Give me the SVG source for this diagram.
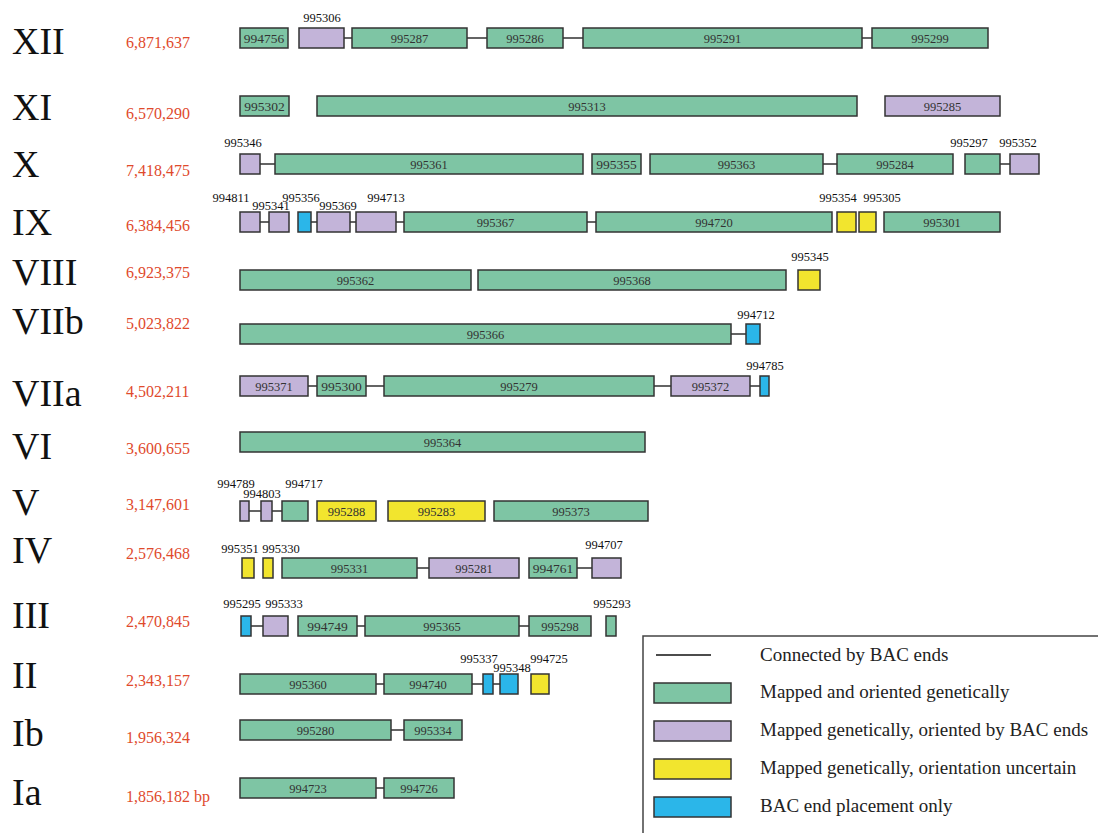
<svg xmlns="http://www.w3.org/2000/svg" width="1098" height="833" viewBox="0 0 1098 833">
<style>
.g,.p,.y,.b{stroke:#333;stroke-width:1.5}
.g{fill:#7ec5a4}.p{fill:#c3b4d9}.y{fill:#f2e52e}.b{fill:#2bb6e9}
text{font-family:"Liberation Serif","Times New Roman",serif}
.in{font-size:12.5px;fill:#333;text-anchor:middle}
.sm{font-size:13.5px}
.out{font-size:12.5px;fill:#111;text-anchor:middle}
.chr{font-size:38px;fill:#111}
.num{font-size:16px;fill:#e04a2c}
.leg{font-size:19px;fill:#222}
#connectors line{stroke:#222;stroke-width:1.4}
</style>
<rect width="1098" height="833" fill="#fff"/>

<g id="labels">
<text class="chr" x="12" y="54">XII</text><text class="num" x="126" y="48">6,871,637</text>
<text class="chr" x="12" y="120">XI</text><text class="num" x="126" y="119">6,570,290</text>
<text class="chr" x="12" y="177">X</text><text class="num" x="126" y="176">7,418,475</text>
<text class="chr" x="12" y="235">IX</text><text class="num" x="126" y="231">6,384,456</text>
<text class="chr" x="12" y="285">VIII</text><text class="num" x="126" y="278">6,923,375</text>
<text class="chr" x="12" y="334">VIIb</text><text class="num" x="126" y="329">5,023,822</text>
<text class="chr" x="12" y="406">VIIa</text><text class="num" x="126" y="397">4,502,211</text>
<text class="chr" x="12" y="459">VI</text><text class="num" x="126" y="454">3,600,655</text>
<text class="chr" x="12" y="515">V</text><text class="num" x="126" y="510">3,147,601</text>
<text class="chr" x="12" y="563">IV</text><text class="num" x="126" y="559">2,576,468</text>
<text class="chr" x="12" y="628">III</text><text class="num" x="126" y="627">2,470,845</text>
<text class="chr" x="12" y="688">II</text><text class="num" x="126" y="686">2,343,157</text>
<text class="chr" x="12" y="746">Ib</text><text class="num" x="126" y="743">1,956,324</text>
<text class="chr" x="12" y="805">Ia</text><text class="num" x="126" y="802">1,856,182 bp</text>
</g>

<g id="connectors">
<line x1="344" y1="38" x2="352" y2="38"/><line x1="467" y1="38" x2="487" y2="38"/><line x1="563" y1="38" x2="583" y2="38"/><line x1="862" y1="38" x2="872" y2="38"/>
<line x1="260" y1="164" x2="275" y2="164"/><line x1="823" y1="164" x2="837" y2="164"/><line x1="1000" y1="164" x2="1010" y2="164"/>
<line x1="260" y1="222" x2="269" y2="222"/><line x1="311" y1="222" x2="317" y2="222"/><line x1="350" y1="222" x2="356" y2="222"/><line x1="396" y1="222" x2="404" y2="222"/><line x1="587" y1="222" x2="596" y2="222"/>
<line x1="731" y1="334" x2="746" y2="334"/>
<line x1="308" y1="386" x2="317" y2="386"/><line x1="366" y1="386" x2="384" y2="386"/><line x1="654" y1="386" x2="671" y2="386"/><line x1="750" y1="386" x2="760" y2="386"/>
<line x1="249" y1="511" x2="261" y2="511"/><line x1="272" y1="511" x2="282" y2="511"/>
<line x1="417" y1="568" x2="429" y2="568"/><line x1="577" y1="568" x2="592" y2="568"/>
<line x1="251" y1="626" x2="263" y2="626"/><line x1="357" y1="626" x2="365" y2="626"/><line x1="519" y1="626" x2="529" y2="626"/>
<line x1="376" y1="684" x2="384" y2="684"/><line x1="472" y1="684" x2="483" y2="684"/><line x1="493" y1="684" x2="500" y2="684"/>
<line x1="391" y1="730" x2="404" y2="730"/>
<line x1="376" y1="788" x2="384" y2="788"/>
</g>

<!-- XII -->
<g id="n994756"><rect class="g" x="240" y="28" width="48" height="20"/><text class="in sm" x="264" y="43">994756</text></g>
<g id="n995306"><rect class="p" x="299" y="28" width="45" height="20"/><text class="out" x="322" y="22">995306</text></g>
<g id="n995287"><rect class="g" x="352" y="28" width="115" height="20"/><text class="in" x="409.5" y="42.5">995287</text></g>
<g id="n995286"><rect class="g" x="487" y="28" width="76" height="20"/><text class="in" x="525" y="42.5">995286</text></g>
<g id="n995291"><rect class="g" x="583" y="28" width="279" height="20"/><text class="in" x="722.5" y="42.5">995291</text></g>
<g id="n995299"><rect class="g" x="872" y="28" width="116" height="20"/><text class="in" x="930" y="42.5">995299</text></g>
<!-- XI -->
<g id="n995302"><rect class="g" x="240" y="96" width="49" height="20"/><text class="in sm" x="264.5" y="111">995302</text></g>
<g id="n995313"><rect class="g" x="317" y="96" width="540" height="20"/><text class="in" x="587" y="110.5">995313</text></g>
<g id="n995285"><rect class="p" x="885" y="96" width="115" height="20"/><text class="in" x="942.5" y="110.5">995285</text></g>
<!-- X -->
<g id="n995346"><rect class="p" x="240" y="154" width="20" height="20"/><text class="out" x="243" y="147">995346</text></g>
<g id="n995361"><rect class="g" x="275" y="154" width="308" height="20"/><text class="in" x="429" y="168.5">995361</text></g>
<g id="n995355"><rect class="g" x="592" y="154" width="49" height="20"/><text class="in sm" x="616.5" y="169">995355</text></g>
<g id="n995363"><rect class="g" x="650" y="154" width="173" height="20"/><text class="in" x="736.5" y="168.5">995363</text></g>
<g id="n995284"><rect class="g" x="837" y="154" width="116" height="20"/><text class="in" x="895" y="168.5">995284</text></g>
<g id="n995297"><rect class="g" x="965" y="154" width="35" height="20"/><text class="out" x="969" y="147">995297</text></g>
<g id="n995352"><rect class="p" x="1010" y="154" width="29" height="20"/><text class="out" x="1018" y="147">995352</text></g>
<!-- IX -->
<g id="n994811"><rect class="p" x="240" y="212" width="20" height="20"/><text class="out" x="231" y="202">994811</text></g>
<g id="n995341"><rect class="p" x="269" y="212" width="20" height="20"/><text class="out" x="271" y="210">995341</text></g>
<g id="n995356"><rect class="b" x="298" y="212" width="13" height="20"/><text class="out" x="301" y="202">995356</text></g>
<g id="n995369"><rect class="p" x="317" y="212" width="33" height="20"/><text class="out" x="338" y="210">995369</text></g>
<g id="n994713"><rect class="p" x="356" y="212" width="40" height="20"/><text class="out" x="386" y="202">994713</text></g>
<g id="n995367"><rect class="g" x="404" y="212" width="183" height="20"/><text class="in" x="495.5" y="226.5">995367</text></g>
<g id="n994720"><rect class="g" x="596" y="212" width="236" height="20"/><text class="in" x="714" y="226.5">994720</text></g>
<g id="n995354"><rect class="y" x="837" y="212" width="19" height="20"/><text class="out" x="838" y="202">995354</text></g>
<g id="n995305"><rect class="y" x="859" y="212" width="17" height="20"/><text class="out" x="882" y="202">995305</text></g>
<g id="n995301"><rect class="g" x="884" y="212" width="116" height="20"/><text class="in" x="942" y="226.5">995301</text></g>
<!-- VIII -->
<g id="n995362"><rect class="g" x="240" y="270" width="231" height="20"/><text class="in" x="355.5" y="284.5">995362</text></g>
<g id="n995368"><rect class="g" x="478" y="270" width="308" height="20"/><text class="in" x="632" y="284.5">995368</text></g>
<g id="n995345"><rect class="y" x="798" y="270" width="22" height="20"/><text class="out" x="810" y="261">995345</text></g>
<!-- VIIb -->
<g id="n995366"><rect class="g" x="240" y="324" width="491" height="20"/><text class="in" x="485.5" y="338.5">995366</text></g>
<g id="n994712"><rect class="b" x="746" y="324" width="14" height="20"/><text class="out" x="756" y="319">994712</text></g>
<!-- VIIa -->
<g id="n995371"><rect class="p" x="240" y="376" width="68" height="20"/><text class="in" x="274" y="390.5">995371</text></g>
<g id="n995300"><rect class="g" x="317" y="376" width="49" height="20"/><text class="in sm" x="341.5" y="391">995300</text></g>
<g id="n995279"><rect class="g" x="384" y="376" width="270" height="20"/><text class="in" x="519" y="390.5">995279</text></g>
<g id="n995372"><rect class="p" x="671" y="376" width="79" height="20"/><text class="in" x="710.5" y="390.5">995372</text></g>
<g id="n994785"><rect class="b" x="760" y="376" width="9" height="20"/><text class="out" x="765" y="370">994785</text></g>
<!-- VI -->
<g id="n995364"><rect class="g" x="240" y="432" width="405" height="20"/><text class="in" x="442.5" y="446.5">995364</text></g>
<!-- V -->
<g id="n994789"><rect class="p" x="240" y="501" width="9" height="20"/><text class="out" x="236" y="488">994789</text></g>
<g id="n994803"><rect class="p" x="261" y="501" width="11" height="20"/><text class="out" x="262" y="498">994803</text></g>
<g id="n994717"><rect class="g" x="282" y="501" width="26" height="20"/><text class="out" x="304" y="488">994717</text></g>
<g id="n995288"><rect class="y" x="317" y="501" width="59" height="20"/><text class="in" x="346.5" y="515.5">995288</text></g>
<g id="n995283"><rect class="y" x="388" y="501" width="97" height="20"/><text class="in" x="436.5" y="515.5">995283</text></g>
<g id="n995373"><rect class="g" x="494" y="501" width="154" height="20"/><text class="in" x="571" y="515.5">995373</text></g>
<!-- IV -->
<g id="n995351"><rect class="y" x="242" y="558" width="12" height="20"/><text class="out" x="240" y="553">995351</text></g>
<g id="n995330"><rect class="y" x="263" y="558" width="10" height="20"/><text class="out" x="281" y="553">995330</text></g>
<g id="n995331"><rect class="g" x="282" y="558" width="135" height="20"/><text class="in" x="349.5" y="572.5">995331</text></g>
<g id="n995281"><rect class="p" x="429" y="558" width="90" height="20"/><text class="in" x="474" y="572.5">995281</text></g>
<g id="n994761"><rect class="g" x="529" y="558" width="48" height="20"/><text class="in sm" x="553" y="573">994761</text></g>
<g id="n994707"><rect class="p" x="592" y="558" width="29" height="20"/><text class="out" x="604" y="549">994707</text></g>
<!-- III -->
<g id="n995295"><rect class="b" x="241" y="616" width="10" height="20"/><text class="out" x="242" y="608">995295</text></g>
<g id="n995333"><rect class="p" x="263" y="616" width="25" height="20"/><text class="out" x="284" y="608">995333</text></g>
<g id="n994749"><rect class="g" x="298" y="616" width="59" height="20"/><text class="in sm" x="327.5" y="631">994749</text></g>
<g id="n995365"><rect class="g" x="365" y="616" width="154" height="20"/><text class="in" x="442" y="630.5">995365</text></g>
<g id="n995298"><rect class="g" x="529" y="616" width="62" height="20"/><text class="in" x="560" y="630.5">995298</text></g>
<g id="n995293"><rect class="g" x="606" y="616" width="10" height="20"/><text class="out" x="612" y="608">995293</text></g>
<!-- II -->
<g id="n995360"><rect class="g" x="240" y="674" width="136" height="20"/><text class="in" x="308" y="688.5">995360</text></g>
<g id="n994740"><rect class="g" x="384" y="674" width="88" height="20"/><text class="in" x="428" y="688.5">994740</text></g>
<g id="n995337"><rect class="b" x="483" y="674" width="10" height="20"/><text class="out" x="479" y="663">995337</text></g>
<g id="n995348"><rect class="b" x="500" y="674" width="18" height="20"/><text class="out" x="512" y="672">995348</text></g>
<g id="n994725"><rect class="y" x="531" y="674" width="18" height="20"/><text class="out" x="549" y="663">994725</text></g>
<!-- Ib -->
<g id="n995280"><rect class="g" x="240" y="720" width="151" height="20"/><text class="in" x="315.5" y="734.5">995280</text></g>
<g id="n995334"><rect class="g" x="404" y="720" width="58" height="20"/><text class="in" x="433" y="734.5">995334</text></g>
<!-- Ia -->
<g id="n994723"><rect class="g" x="240" y="778" width="136" height="20"/><text class="in" x="308" y="792.5">994723</text></g>
<g id="n994726"><rect class="g" x="384" y="778" width="70" height="20"/><text class="in" x="419" y="792.5">994726</text></g>

<g id="legend">
<rect x="643" y="636" width="470" height="210" fill="#fff" stroke="#444" stroke-width="1.5"/>
<line x1="656" y1="655" x2="711" y2="655" stroke="#111" stroke-width="1.5"/>
<text class="leg" x="760" y="661">Connected by BAC ends</text>
<rect class="g" x="654" y="683" width="77" height="20"/>
<text class="leg" x="760" y="698">Mapped and oriented genetically</text>
<rect class="p" x="654" y="721" width="77" height="20"/>
<text class="leg" x="760" y="736">Mapped genetically, oriented by BAC ends</text>
<rect class="y" x="654" y="759" width="77" height="20"/>
<text class="leg" x="760" y="774">Mapped genetically, orientation uncertain</text>
<rect class="b" x="654" y="797" width="77" height="20"/>
<text class="leg" x="760" y="812">BAC end placement only</text>
</g>
</svg>
